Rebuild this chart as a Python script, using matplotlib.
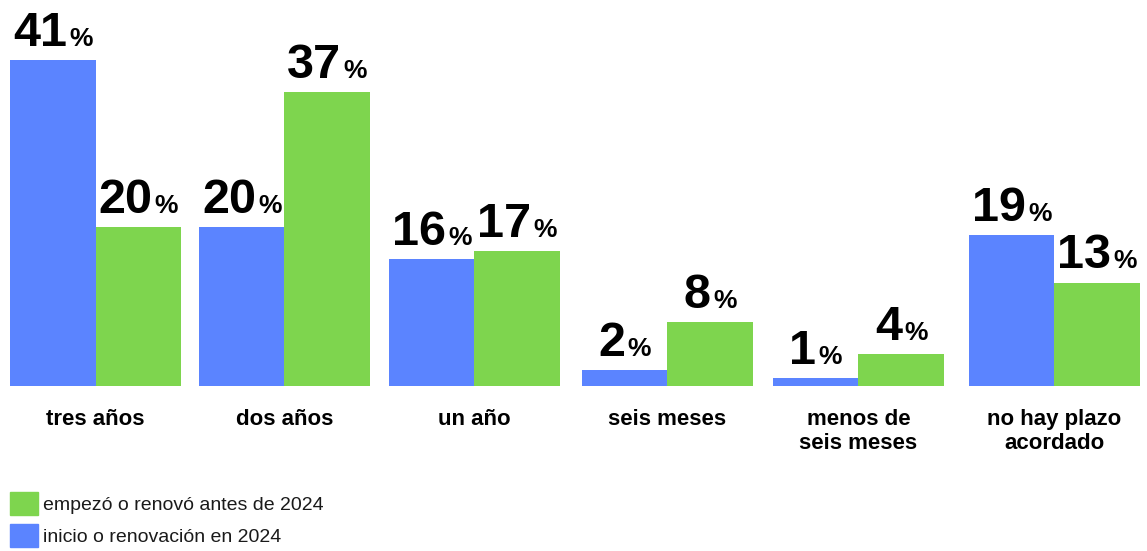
import matplotlib.pyplot as plt
from matplotlib.patches import Patch
from matplotlib.offsetbox import TextArea, HPacker, AnnotationBbox

plt.rcParams['font.family'] = ['Liberation Sans', 'DejaVu Sans']

categories = ["tres años", "dos años", "un año", "seis meses",
              "menos de\nseis meses", "no hay plazo\nacordado"]
inicio_2024 = [41, 20, 16, 2, 1, 19]
antes_2024 = [20, 37, 17, 8, 4, 13]
legend_labels = ["empezó o renovó antes de 2024", "inicio o renovación en 2024"]

# group centres (layout only, in group-pitch units)
group_x = [0, 0.985, 1.976, 2.982, 3.978, 5.0]

blue = "#5B84FF"
green = "#7ED54E"

W, H = 1147, 551
fig = plt.figure(figsize=(W / 100, H / 100), dpi=100)

px_per_pct = 7.95
ymax = 46
ax = fig.add_axes([10 / W, (H - 386) / H, 1130 / W, ymax * px_per_pct / H])

bw = 0.4458
ax.bar([c - bw / 2 for c in group_x], inicio_2024, width=bw, color=blue)
ax.bar([c + bw / 2 for c in group_x], antes_2024, width=bw, color=green)
ax.set_xlim(-bw, group_x[-1] + bw)
ax.set_ylim(0, ymax)
ax.axis("off")


def value_label(xc, v):
    num = TextArea(str(v), textprops=dict(fontsize=35, fontweight="bold", color="black"))
    pct = TextArea("%", textprops=dict(fontsize=19, fontweight="bold", color="black"))
    box = HPacker(children=[num, pct], align="baseline", pad=0, sep=1.5)
    ab = AnnotationBbox(box, (xc, v), xybox=(0, 3), xycoords="data",
                        boxcoords="offset points", box_alignment=(0.5, 0),
                        frameon=False, pad=0)
    ax.add_artist(ab)


for i, c in enumerate(group_x):
    value_label(c - bw / 2, inicio_2024[i])
    value_label(c + bw / 2, antes_2024[i])
    ax.text(c, -2.9, categories[i], ha="center", va="top", fontsize=16,
            fontweight="bold", linespacing=1.2)

handles = [Patch(color=green), Patch(color=blue)]
fig.legend(handles, legend_labels, loc="upper left", bbox_to_anchor=(0.0087, 0.107),
           frameon=False, fontsize=14, handlelength=1.42, handleheight=1.42,
           handletextpad=0.3, labelspacing=0.5, borderpad=0, borderaxespad=0,
           labelcolor="#1a1a1a")

fig.savefig("out.png", dpi=100)
